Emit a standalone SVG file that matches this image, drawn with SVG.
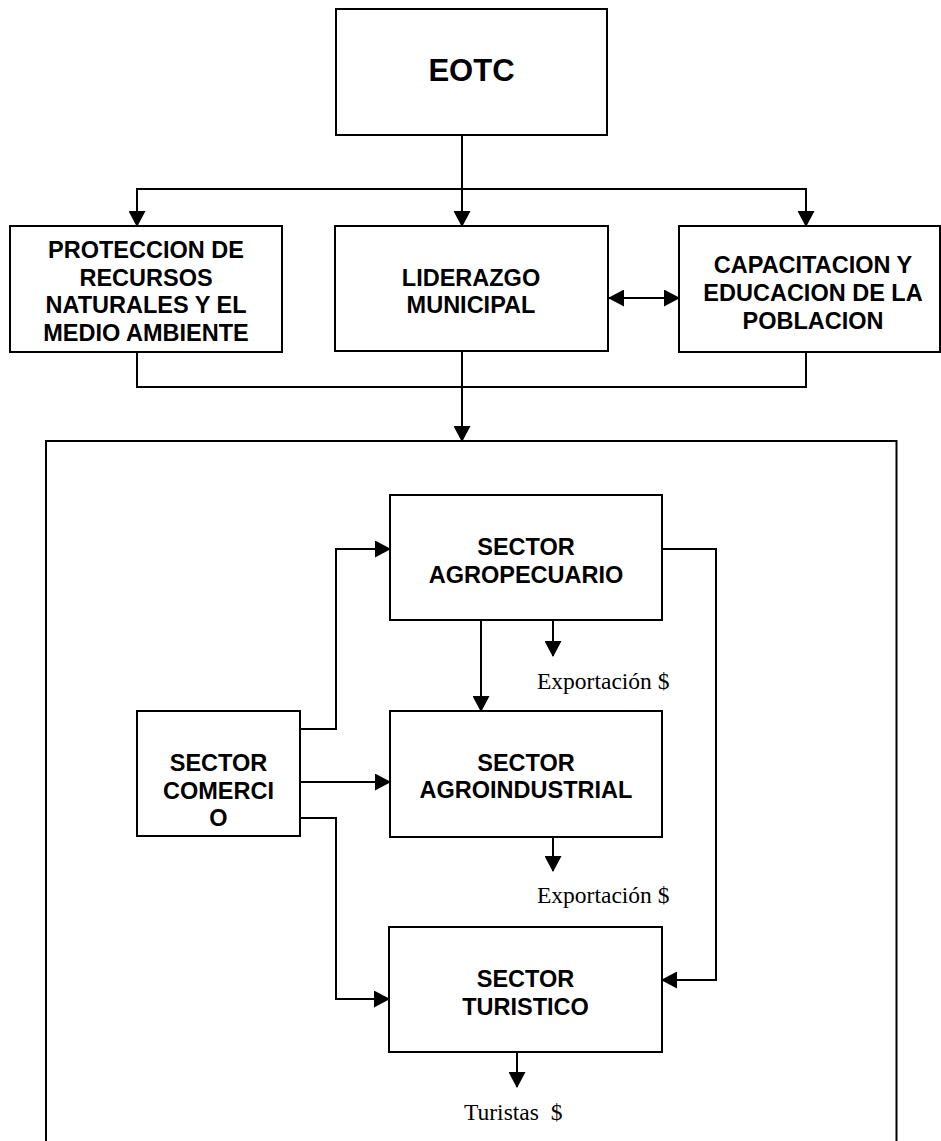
<svg xmlns="http://www.w3.org/2000/svg" width="941" height="1141" viewBox="0 0 941 1141">
<defs>
<marker id="ah" markerUnits="userSpaceOnUse" markerWidth="16" markerHeight="17" refX="15" refY="8.5" orient="auto">
<path d="M0,0 L16,8.5 L0,17 z" fill="#000"/>
</marker>
<marker id="ahs" markerUnits="userSpaceOnUse" markerWidth="16" markerHeight="17" refX="0" refY="8.5" orient="auto">
<path d="M16,0 L0,8.5 L16,17 z" fill="#000"/>
</marker>
</defs>
<style>
.box{fill:#fff;stroke:#000;stroke-width:2}
.lbl{font-family:"Liberation Sans",Arial,sans-serif;font-weight:bold;font-size:23.5px;text-anchor:middle;fill:#000}
.big{font-size:31px}
.ser{font-family:"Liberation Serif","Times New Roman",serif;font-size:23.5px;fill:#000}
.c{fill:none;stroke:#000;stroke-width:2}
</style>
<rect width="941" height="1141" fill="#fff"/>
<g id="container"><path class="c" d="M46,1150 V441 H896.5 V1150"/></g>
<g id="connectors">
<path class="c" d="M462,135 V226" marker-end="url(#ah)"/>
<path class="c" d="M137,226 V189 H806 V226" marker-end="url(#ah)"/>
<path class="c" d="M137,189 V226" marker-end="url(#ah)"/>
<path class="c" d="M608,298 H679" marker-start="url(#ahs)" marker-end="url(#ah)"/>
<path class="c" d="M137,352 V387 H806 V352"/>
<path class="c" d="M462,351 V441" marker-end="url(#ah)"/>
<path class="c" d="M300,729 H336 V549 H390" marker-end="url(#ah)"/>
<path class="c" d="M300,782 H390" marker-end="url(#ah)"/>
<path class="c" d="M300,818 H336 V999 H389" marker-end="url(#ah)"/>
<path class="c" d="M481,620 V711" marker-end="url(#ah)"/>
<path class="c" d="M553,620 V656" marker-end="url(#ah)"/>
<path class="c" d="M553,837 V871" marker-end="url(#ah)"/>
<path class="c" d="M662,549 H716 V980 H662" marker-end="url(#ah)"/>
<path class="c" d="M517,1052 V1087" marker-end="url(#ah)"/>
</g>
<g id="eotc"><rect class="box" x="336" y="9" width="271" height="126"/><text class="lbl big" x="471.5" y="81">EOTC</text></g>
<g id="proteccion"><rect class="box" x="10" y="226" width="272" height="126"/>
<text class="lbl" x="146" y="258">PROTECCION DE</text><text class="lbl" x="146" y="286">RECURSOS</text><text class="lbl" x="146" y="313">NATURALES Y EL</text><text class="lbl" x="146" y="341">MEDIO AMBIENTE</text></g>
<g id="liderazgo"><rect class="box" x="335" y="226" width="273" height="125"/>
<text class="lbl" x="471" y="286">LIDERAZGO</text><text class="lbl" x="471" y="313">MUNICIPAL</text></g>
<g id="capacitacion"><rect class="box" x="679" y="226" width="261" height="126"/>
<text class="lbl" x="813" y="273">CAPACITACION Y</text><text class="lbl" x="813" y="301">EDUCACION DE LA</text><text class="lbl" x="813" y="329">POBLACION</text></g>
<g id="agropecuario"><rect class="box" x="390" y="495" width="272" height="125"/>
<text class="lbl" x="526" y="555">SECTOR</text><text class="lbl" x="526" y="583">AGROPECUARIO</text></g>
<g id="agroindustrial"><rect class="box" x="390" y="711" width="272" height="126"/>
<text class="lbl" x="526" y="771">SECTOR</text><text class="lbl" x="526" y="798">AGROINDUSTRIAL</text></g>
<g id="turistico"><rect class="box" x="389" y="927" width="273" height="125"/>
<text class="lbl" x="525.5" y="987">SECTOR</text><text class="lbl" x="525.5" y="1015">TURISTICO</text></g>
<g id="comercio"><rect class="box" x="137" y="711" width="163" height="125"/>
<text class="lbl" x="218.5" y="771">SECTOR</text><text class="lbl" x="218.5" y="799">COMERCI</text><text class="lbl" x="218.5" y="826">O</text></g>
<g id="labels">
<text class="ser" x="537" y="689">Exportación $</text>
<text class="ser" x="537" y="903">Exportación $</text>
<text class="ser" x="464" y="1120" xml:space="preserve">Turistas  $</text>
</g>
</svg>
